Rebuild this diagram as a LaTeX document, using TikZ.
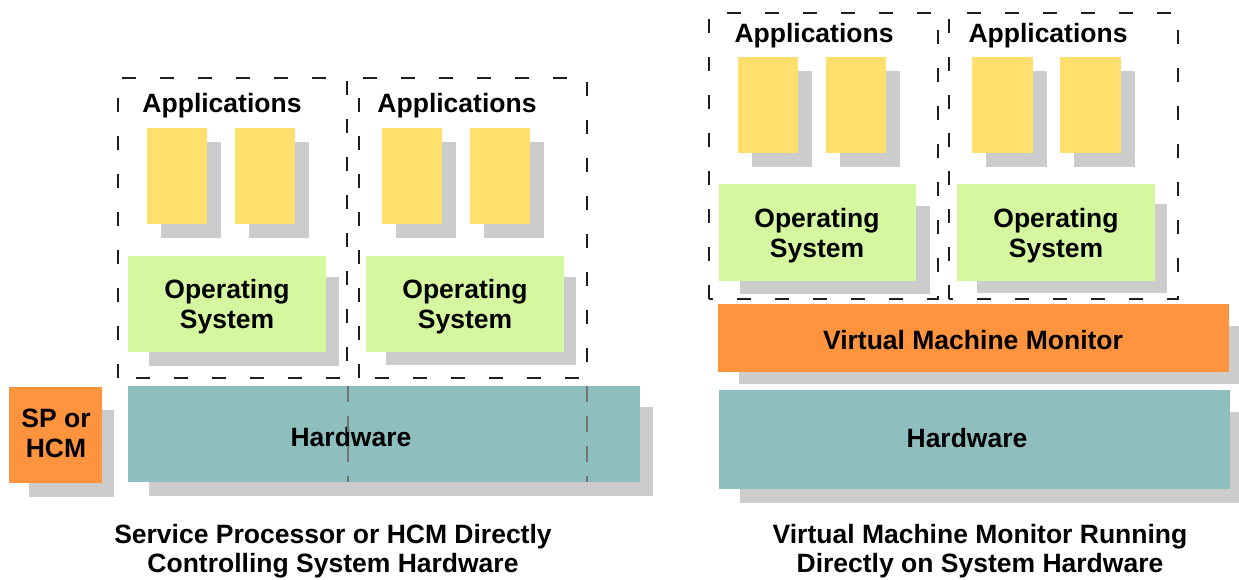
\documentclass[tikz,border=0pt]{standalone}
\usepackage{fontspec}
\setmainfont{Liberation Sans}
\definecolor{shadowgray}{RGB}{204,204,204}
\definecolor{appyellow}{RGB}{255,223,110}
\definecolor{osgreen}{RGB}{213,247,160}
\definecolor{hwteal}{RGB}{143,190,190}
\definecolor{vmmorange}{RGB}{255,147,62}
\definecolor{linedark}{RGB}{30,30,30}
\newcommand\rblock[7][]{%
  \node[anchor=north west,minimum width={(#5-#3)*1pt},minimum height={(#6-#4)*1pt},#1] (#2) at (#3,#4) {#7};}
\newcommand\rshadow[4]{\fill[shadowgray] (#1,#2) rectangle (#3,#4);}
\begin{document}
\begin{tikzpicture}[x=1pt,y=-1pt,
  every node/.style={inner sep=0pt,outer sep=0pt,font=\fontsize{26.5}{30}\selectfont\bfseries},
  appbox/.style={fill=appyellow},
  osbox/.style={fill=osgreen},
  ostext/.style={align=center},
  hwbox/.style={fill=hwteal},
  vmmbox/.style={fill=vmmorange},
  spbox/.style={fill=vmmorange},
  vmframe/.style={draw=linedark,line width=1.3pt,dash pattern=on 14pt off 24pt},
  hwdash/.style={draw=black!55,line width=1.3pt,dash pattern=on 16pt off 14pt},
  lbl/.style={anchor=base}]
\useasboundingbox (0,0) rectangle (1239,579);
% ---------------- left panel ----------------
\rshadow{29}{410}{114}{497}
\rblock[spbox]{sp}{9}{387}{102}{483}{}
\node[align=center] (sptext) at (56,433) {SP or\\HCM};
\rshadow{149}{407}{653}{496}
\rblock[hwbox]{hwL}{128}{386}{640}{482}{}
\node[lbl] (hwLtext) at (351,446) {Hardware};
\draw[hwdash] (348,386) -- (348,482);
\draw[hwdash] (587,386) -- (587,482);
% VM 1
\rshadow{161}{142}{221}{238}
\rshadow{249}{142}{309}{238}
\rblock[appbox]{a1}{147}{128}{207}{224}{}
\rblock[appbox]{a2}{235}{128}{295}{224}{}
\rshadow{149}{277}{339}{366}
\rblock[osbox]{os1}{128}{256}{326}{352}{}
\node[ostext] (os1text) at (227,307) {Operating\\System};
\node[lbl] (ap1) at (222,112) {Applications};
\draw[vmframe] (118,378) rectangle (347,78);
% VM 2
\rshadow{396}{142}{456}{238}
\rshadow{484}{142}{544}{238}
\rblock[appbox]{a3}{382}{128}{442}{224}{}
\rblock[appbox]{a4}{470}{128}{530}{224}{}
\rshadow{386}{277}{576}{365}
\rblock[osbox]{os2}{366}{256}{564}{352}{}
\node[ostext] (os2text) at (465,307) {Operating\\System};
\node[lbl] (ap2) at (457,112) {Applications};
\draw[vmframe] (359,378) rectangle (587,78);
\node[lbl] (capL1) at (333,543) {Service Processor or HCM Directly};
\node[lbl] (capL2) at (333,572) {Controlling System Hardware};
% ---------------- right panel ----------------
% VM 3
\rshadow{752}{71}{812}{167}
\rshadow{840}{71}{900}{167}
\rblock[appbox]{a5}{738}{57}{798}{153}{}
\rblock[appbox]{a6}{826}{57}{886}{153}{}
\rshadow{740}{206}{930}{294}
\rblock[osbox]{os3}{719}{184}{916}{281}{}
\node[ostext] (os3text) at (817,236) {Operating\\System};
\node[lbl] (ap3) at (814,42) {Applications};
\draw[vmframe] (709,299) rectangle (938,13);
% VM 4
\rshadow{986}{71}{1047}{167}
\rshadow{1074}{71}{1135}{167}
\rblock[appbox]{a7}{972}{57}{1033}{153}{}
\rblock[appbox]{a8}{1060}{57}{1121}{153}{}
\rshadow{977}{204}{1167}{293}
\rblock[osbox]{os4}{957}{184}{1155}{281}{}
\node[ostext] (os4text) at (1056,236) {Operating\\System};
\node[lbl] (ap4) at (1048,42) {Applications};
\draw[vmframe] (949,299) rectangle (1178,13);
% VMM and hardware
\rshadow{739}{326}{1239}{384}
\rblock[vmmbox]{vmm}{718}{304}{1229}{372}{}
\node[lbl] (vmmtext) at (973,349) {Virtual Machine Monitor};
\rshadow{740}{412}{1239}{503}
\rblock[hwbox]{hwR}{719}{390}{1230}{489}{}
\node[lbl] (hwRtext) at (967,447) {Hardware};
\node[lbl] (capR1) at (980,543) {Virtual Machine Monitor Running};
\node[lbl] (capR2) at (980,572) {Directly on System Hardware};
\end{tikzpicture}
\end{document}
